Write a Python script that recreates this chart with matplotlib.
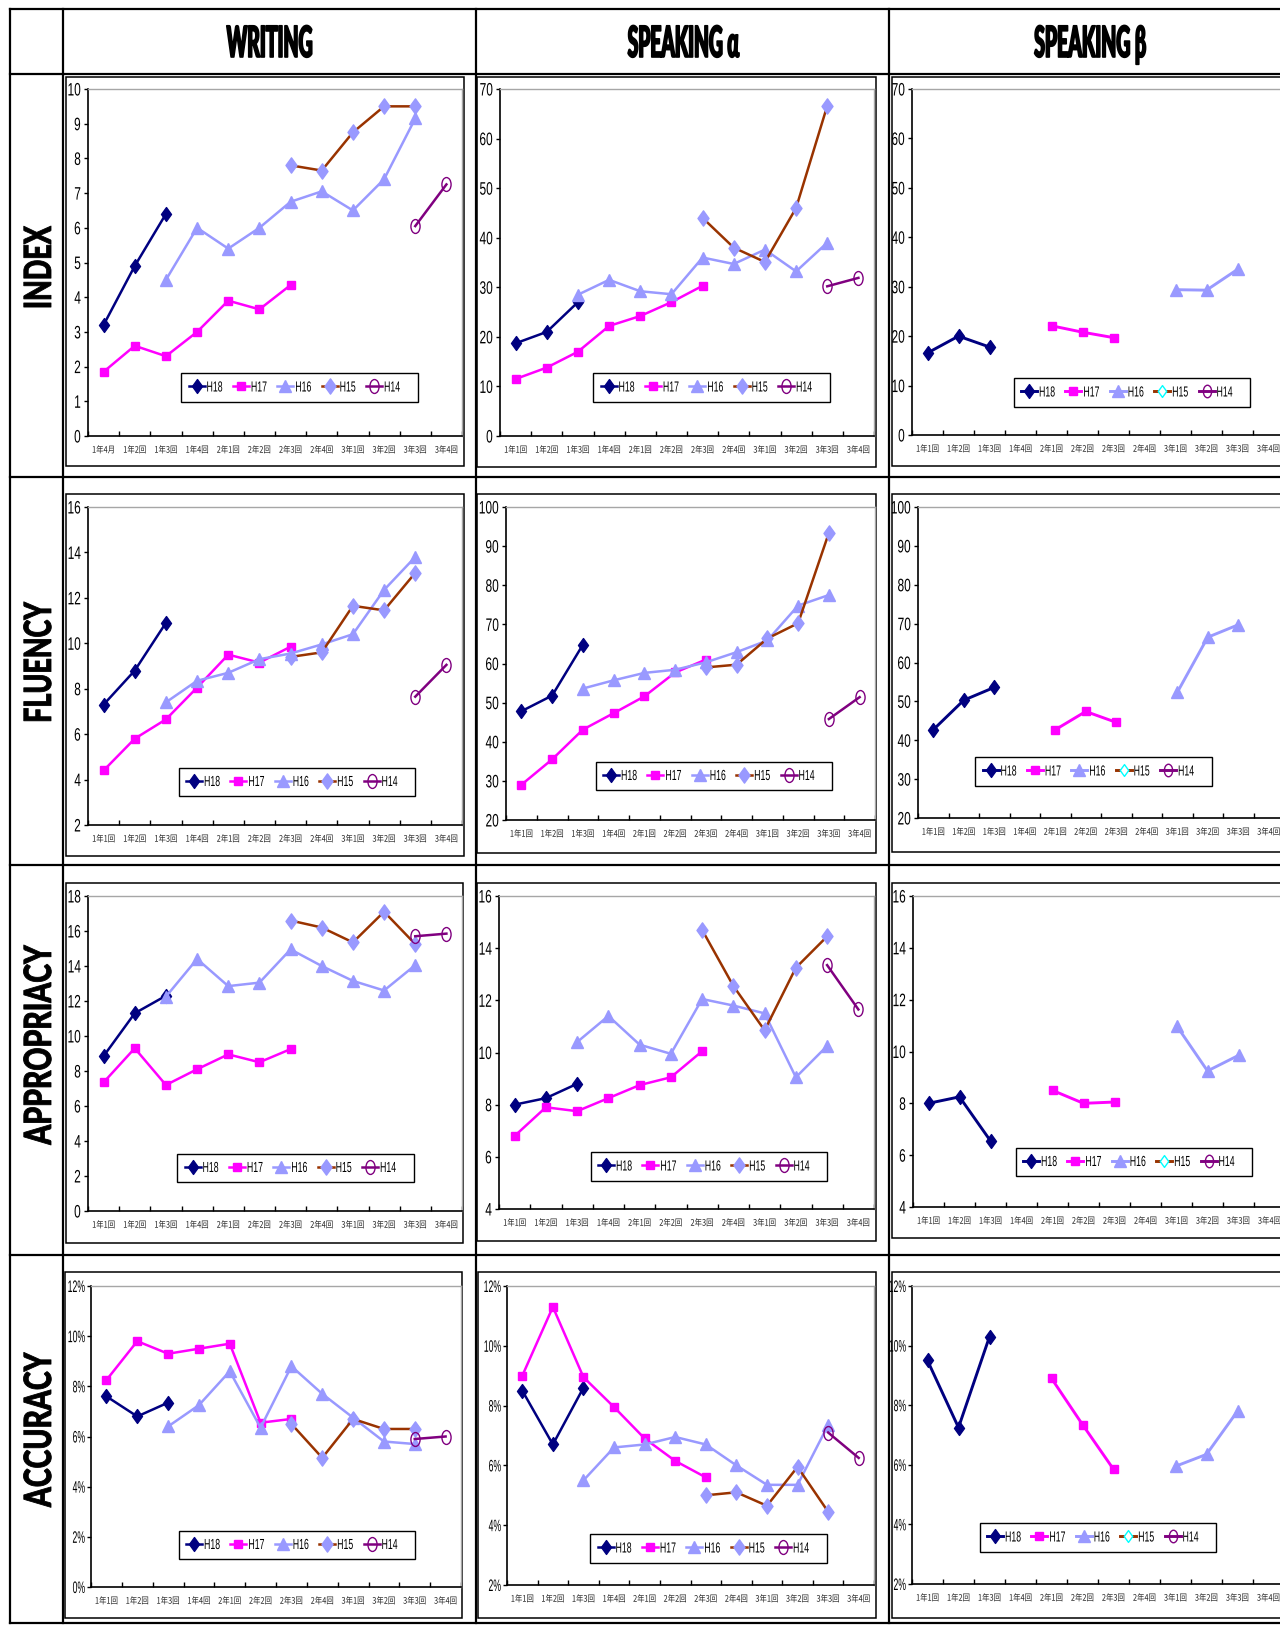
import numpy as np
import matplotlib
matplotlib.use("Agg")
import matplotlib.pyplot as plt
from matplotlib.patches import Rectangle
from matplotlib.path import Path
from matplotlib.transforms import Affine2D
from matplotlib.patheffects import AbstractPathEffect
from matplotlib.ticker import MultipleLocator, PercentFormatter

N = None

rounds = ["1年1回", "1年2回", "1年3回", "1年4回", "2年1回", "2年2回",
          "2年3回", "2年4回", "3年1回", "3年2回", "3年3回", "3年4回"]
# the writing index chart names its first round by month
rounds_w_index = ["1年4月"] + rounds[1:]

columns = ["WRITING", "SPEAKING α", "SPEAKING β"]
rows = ["INDEX", "FLUENCY", "APPROPRIACY", "ACCURACY"]
series_names = ["H18", "H17", "H16", "H15", "H14"]

# ---- INDEX ----
w_index = {
    "H18": [3.2, 4.9, 6.4, N, N, N, N, N, N, N, N, N],
    "H17": [1.85, 2.6, 2.3, 3.0, 3.9, 3.65, 4.35, N, N, N, N, N],
    "H16": [N, N, 4.5, 6.0, 5.4, 6.0, 6.75, 7.05, 6.5, 7.4, 9.15, N],
    "H15": [N, N, N, N, N, N, 7.8, 7.65, 8.75, 9.5, 9.5, N],
    "H14": [N, N, N, N, N, N, N, N, N, N, 6.05, 7.25],
}
sa_index = {
    "H18": [18.7, 21.0, 27.0, N, N, N, N, N, N, N, N, N],
    "H17": [11.5, 13.8, 17.0, 22.2, 24.2, 27.0, 30.3, N, N, N, N, N],
    "H16": [N, N, 28.5, 31.5, 29.2, 28.6, 36.0, 34.7, 37.6, 33.2, 39.0, N],
    "H15": [N, N, N, N, N, N, 44.0, 38.0, 35.1, 46.0, 66.6, N],
    "H14": [N, N, N, N, N, N, N, N, N, N, 30.2, 31.9],
}
sb_index = {
    "H18": [16.6, 20.0, 17.8, N, N, N, N, N, N, N, N, N],
    "H17": [N, N, N, N, 22.1, 20.8, 19.7, N, N, N, N, N],
    "H16": [N, N, N, N, N, N, N, N, 29.4, 29.3, 33.5, N],
}

# ---- FLUENCY ----
w_fluency = {
    "H18": [7.3, 8.8, 10.9, N, N, N, N, N, N, N, N, N],
    "H17": [4.4, 5.8, 6.65, 8.05, 9.5, 9.15, 9.85, N, N, N, N, N],
    "H16": [N, N, 7.4, 8.35, 8.7, 9.3, 9.55, 9.95, 10.4, 12.35, 13.8, N],
    "H15": [N, N, N, N, N, N, 9.4, 9.6, 11.65, 11.45, 13.1, N],
    "H14": [N, N, N, N, N, N, N, N, N, N, 7.65, 9.05],
}
sa_fluency = {
    "H18": [47.8, 51.8, 64.8, N, N, N, N, N, N, N, N, N],
    "H17": [29.0, 35.5, 43.1, 47.3, 51.6, 57.7, 61.0, N, N, N, N, N],
    "H16": [N, N, 53.6, 55.7, 57.6, 58.4, 60.3, 62.9, 65.9, 74.8, 77.5, N],
    "H15": [N, N, N, N, N, N, 59.0, 59.7, 66.4, 70.3, 93.4, N],
    "H14": [N, N, N, N, N, N, N, N, N, N, 45.8, 51.4],
}
sb_fluency = {
    "H18": [42.7, 50.3, 53.6, N, N, N, N, N, N, N, N, N],
    "H17": [N, N, N, N, 42.7, 47.4, 44.6, N, N, N, N, N],
    "H16": [N, N, N, N, N, N, N, N, 52.3, 66.5, 69.7, N],
}

# ---- APPROPRIACY ----
w_approp = {
    "H18": [8.85, 11.3, 12.3, N, N, N, N, N, N, N, N, N],
    "H17": [7.35, 9.3, 7.2, 8.1, 8.95, 8.5, 9.25, N, N, N, N, N],
    "H16": [N, N, 12.25, 14.4, 12.85, 13.05, 14.95, 14.0, 13.15, 12.6, 14.05, N],
    "H15": [N, N, N, N, N, N, 16.6, 16.2, 15.35, 17.1, 15.25, N],
    "H14": [N, N, N, N, N, N, N, N, N, N, 15.7, 15.85],
}
sa_approp = {
    "H18": [8.0, 8.25, 8.8, N, N, N, N, N, N, N, N, N],
    "H17": [6.8, 7.9, 7.75, 8.25, 8.75, 9.05, 10.05, N, N, N, N, N],
    "H16": [N, N, 10.4, 11.4, 10.3, 9.95, 12.05, 11.8, 11.5, 9.05, 10.25, N],
    "H15": [N, N, N, N, N, N, 14.7, 12.55, 10.85, 13.25, 14.45, N],
    "H14": [N, N, N, N, N, N, N, N, N, N, 13.35, 11.65],
}
sb_approp = {
    "H18": [8.0, 8.25, 6.55, N, N, N, N, N, N, N, N, N],
    "H17": [N, N, N, N, 8.5, 8.0, 8.05, N, N, N, N, N],
    "H16": [N, N, N, N, N, N, N, N, 11.0, 9.25, 9.85, N],
}

# ---- ACCURACY (%) ----
w_accuracy = {
    "H18": [7.6, 6.8, 7.35, N, N, N, N, N, N, N, N, N],
    "H17": [8.25, 9.8, 9.3, 9.5, 9.7, 6.55, 6.7, N, N, N, N, N],
    "H16": [N, N, 6.4, 7.25, 8.6, 6.35, 8.8, 7.7, 6.75, 5.8, 5.7, N],
    "H15": [N, N, N, N, N, N, 6.5, 5.15, 6.7, 6.3, 6.3, N],
    "H14": [N, N, N, N, N, N, N, N, N, N, 5.9, 6.0],
}
sa_accuracy = {
    "H18": [8.5, 6.7, 8.6, N, N, N, N, N, N, N, N, N],
    "H17": [9.0, 11.3, 8.95, 7.95, 6.9, 6.15, 5.6, N, N, N, N, N],
    "H16": [N, N, 5.5, 6.6, 6.7, 6.95, 6.7, 6.0, 5.35, 5.35, 7.35, N],
    "H15": [N, N, N, N, N, N, 5.0, 5.1, 4.65, 5.95, 4.45, N],
    "H14": [N, N, N, N, N, N, N, N, N, N, 7.1, 6.25],
}
sb_accuracy = {
    "H18": [9.5, 7.25, 10.3, N, N, N, N, N, N, N, N, N],
    "H17": [N, N, N, N, 8.9, 7.35, 5.85, N, N, N, N, N],
    "H16": [N, N, N, N, N, N, N, N, 5.95, 6.35, 7.8, N],
}

panels = [
    [w_index, sa_index, sb_index],
    [w_fluency, sa_fluency, sb_fluency],
    [w_approp, sa_approp, sb_approp],
    [w_accuracy, sa_accuracy, sb_accuracy],
]
# (ymin, ymax, step)
yranges = [
    [(0, 10, 1), (0, 70, 10), (0, 70, 10)],
    [(2, 16, 2), (20, 100, 10), (20, 100, 10)],
    [(0, 18, 2), (4, 16, 2), (4, 16, 2)],
    [(0, 12, 2), (2, 12, 2), (2, 12, 2)],
]

# layout in pixels (x0, y0, x1, y1), y measured from the top
W, H = 1280, 1625
plot_boxes = [
    [(88, 89, 462, 436), (500, 89, 874, 436), (912, 89, 1284, 435)],
    [(88, 507, 462, 825), (506, 507, 875, 820), (918, 507, 1284, 818)],
    [(88, 896, 462, 1211), (499, 896, 874, 1209), (913, 896, 1285, 1207)],
    [(91, 1286, 461, 1587), (507, 1286, 874, 1585), (912, 1286, 1284, 1584)],
]
chart_boxes = [
    [(66, 77, 464, 466), (477, 77, 876, 467), (892, 77, 1300, 466)],
    [(66, 494, 464, 856), (477, 494, 876, 853), (892, 494, 1300, 852)],
    [(66, 883, 463, 1243), (477, 883, 876, 1241), (892, 883, 1300, 1238)],
    [(65, 1272, 462, 1618), (478, 1272, 876, 1618), (892, 1272, 1300, 1618)],
]
legend_boxes = [
    [(181, 373, 418, 402), (593, 373, 830, 402), (1023, 377, 1241, 408)],
    [(178, 768, 416, 796), (595, 761, 833, 791), (975, 757, 1212, 786)],
    [(177, 1154, 414, 1182), (590, 1152, 828, 1181), (1021, 1147, 1247, 1177)],
    [(177, 1533, 417, 1557), (589, 1536, 828, 1561), (980, 1525, 1216, 1550)],
]
grid_x = [10, 63, 476, 889]
grid_y = [9, 74, 477, 865, 1255, 1623]
header_x = [270, 683, 1090]
row_label_y = [268, 663, 1045, 1430]
header_len = [85, 111, 111]
row_label_len = [81, 119, 200, 155]


class Squeeze(AbstractPathEffect):
    """Draw glyphs narrower along the baseline (condensed lettering)."""

    def __init__(self, factor=None, length=None, anchor="center", stroke=0.0):
        super().__init__()
        self.factor, self.length = factor, length
        self.anchor, self.stroke = anchor, stroke

    def draw_path(self, renderer, gc, tpath, affine, rgbFace=None):
        if len(tpath.vertices) == 0:
            return
        ext = tpath.get_extents()
        if self.length is not None:
            a = affine.transform([(ext.x0, 0), (ext.x1, 0)])
            sx = self.length / max(np.hypot(*(a[1] - a[0])), 1e-6)
        else:
            sx = self.factor
        cx = {"left": ext.x0, "right": ext.x1}.get(self.anchor,
                                                  (ext.x0 + ext.x1) / 2)
        sq = Affine2D().translate(-cx, 0).scale(sx, 1).translate(cx, 0)
        gc0 = renderer.new_gc()
        gc0.copy_properties(gc)
        if self.stroke and rgbFace is not None:
            gc0.set_foreground(rgbFace)
            gc0.set_linewidth(self.stroke)
        renderer.draw_path(gc0, tpath, sq + affine, rgbFace)
        gc0.restore()


# marker shapes: tall diamond and tall ellipse
diamond = Path([(0, 1), (0.72, 0), (0, -1), (-0.72, 0), (0, 1)],
               [Path.MOVETO, Path.LINETO, Path.LINETO, Path.LINETO, Path.CLOSEPOLY])
ellipse = Path.unit_circle().transformed(Affine2D().scale(0.66, 1))

styles = {
    "H18": dict(color="#000080", marker=diamond, ms=10, mfc="#000080", mec="#000080"),
    "H17": dict(color="#FF00FF", marker="s", ms=6.3, mfc="#FF00FF", mec="#FF00FF"),
    "H16": dict(color="#9999FF", marker="^", ms=8, mfc="#9999FF", mec="#9999FF"),
    "H15": dict(color="#993300", marker=diamond, ms=11, mfc="#9999FF", mec="#9999FF"),
    "H14": dict(color="#800080", marker=ellipse, ms=10, mfc="none", mec="#800080", mew=1),
}
# series without any data in the β charts keep Excel's default legend look
styles_empty = {
    "H15": dict(color="#993300", marker=diamond, ms=8.5, mfc="white", mec="#00FFFF", mew=1),
    "H14": dict(color="#800080", marker=ellipse, ms=9, mfc="none", mec="#800080", mew=1),
}

fig = plt.figure(figsize=(W / 100, H / 100), dpi=100)
bg = fig.add_axes([0, 0, 1, 1])
bg.set_xlim(0, W)
bg.set_ylim(H, 0)
bg.axis("off")


def px_axes(box):
    x0, y0, x1, y1 = box
    return fig.add_axes([x0 / W, 1 - y1 / H, (x1 - x0) / W, (y1 - y0) / H])


# table frame
for gx in grid_x:
    bg.plot([gx, gx], [grid_y[0], grid_y[-1]], color="black", lw=1.6,
            solid_capstyle="projecting")
for gy in grid_y:
    bg.plot([grid_x[0], W + 5], [gy, gy], color="black", lw=1.6,
            solid_capstyle="projecting")

head_font = dict(family=["Lato", "DejaVu Sans"], weight="black")
for name, x, ln in zip(columns, header_x, header_len):
    bg.text(x, 57, name, ha="center", va="baseline", fontsize=31, **head_font,
            path_effects=[Squeeze(length=ln, stroke=1.2)])
for name, y, ln in zip(rows, row_label_y, row_label_len):
    bg.text(40, y, name, ha="center", va="center", rotation=90, fontsize=27,
            **head_font, path_effects=[Squeeze(length=ln, stroke=0.6)])

chart_axes = []
x = np.arange(12) + 0.5
for r in range(4):
    for c in range(3):
        cx0, cy0, cx1, cy1 = chart_boxes[r][c]
        bg.add_patch(Rectangle((cx0, cy0), cx1 - cx0, cy1 - cy0, fc="white",
                               ec="black", lw=1.1))
        ax = px_axes(plot_boxes[r][c])
        chart_axes.append(ax)
        data = panels[r][c]
        lw = 1.8 if c < 2 else 2.1
        for name in series_names:
            if name in data:
                y = np.array([np.nan if v is None else v for v in data[name]], float)
                st = styles[name]
            else:
                y = np.full(12, np.nan)
                st = styles_empty[name]
            ax.plot(x, y, lw=lw, label=name, clip_on=False, **st)

        lo, hi, step = yranges[r][c]
        ax.set_xlim(0, 12)
        ax.set_ylim(lo, hi)
        ax.yaxis.set_major_locator(MultipleLocator(step))
        if r == 3:
            ax.yaxis.set_major_formatter(PercentFormatter(xmax=100, decimals=0))
        ax.set_xticks(np.arange(13))
        ax.set_xticklabels([])
        labels = rounds_w_index if (r == 0 and c == 0) else rounds
        ax.set_xticks(x, labels, minor=True)
        ax.tick_params(axis="x", which="major", direction="in", length=3.5,
                       width=1, color="black")
        ax.tick_params(axis="x", which="minor", length=0, pad=7, labelsize=6.5,
                       labelfontfamily="Noto Sans CJK JP", labelcolor="#222222")
        ax.tick_params(axis="y", direction="out", length=3, width=1,
                       pad=1 if r == 3 else 2,
                       labelsize=12 if r == 3 else 13,
                       labelfontfamily="Liberation Sans")

        for side in ("left", "bottom"):
            ax.spines[side].set_color("black")
            ax.spines[side].set_linewidth(1.2)
        for side in ("top", "right"):
            ax.spines[side].set_color("#A6A6A6")
            ax.spines[side].set_linewidth(1.0)

        lx0, ly0, lx1, ly1 = legend_boxes[r][c]
        leg = ax.legend(loc="center", bbox_to_anchor=((lx0 + lx1) / 2 / W,
                                                      1 - (ly0 + ly1) / 2 / H),
                        bbox_transform=fig.transFigure, ncol=5, frameon=True,
                        fancybox=False, edgecolor="black", framealpha=1,
                        prop=dict(family="Liberation Sans", size=10.5),
                        handlelength=1.1, handletextpad=0.1, columnspacing=0.0,
                        borderpad=0.5)
        leg.get_frame().set_linewidth(1.0)
        for t in leg.get_texts():
            t.set_path_effects([Squeeze(0.6, anchor="left")])

# tick labels exist for good only after a first draw; condense them then
fig.canvas.draw()
for i, ax in enumerate(chart_axes):
    for lab in ax.get_xticklabels(minor=True):
        lab.set_path_effects([Squeeze(0.82)])
    for lab in ax.get_yticklabels():
        lab.set_path_effects([Squeeze(0.52 if i >= 9 else 0.66, anchor="right")])

fig.savefig("out.png", dpi=100)
